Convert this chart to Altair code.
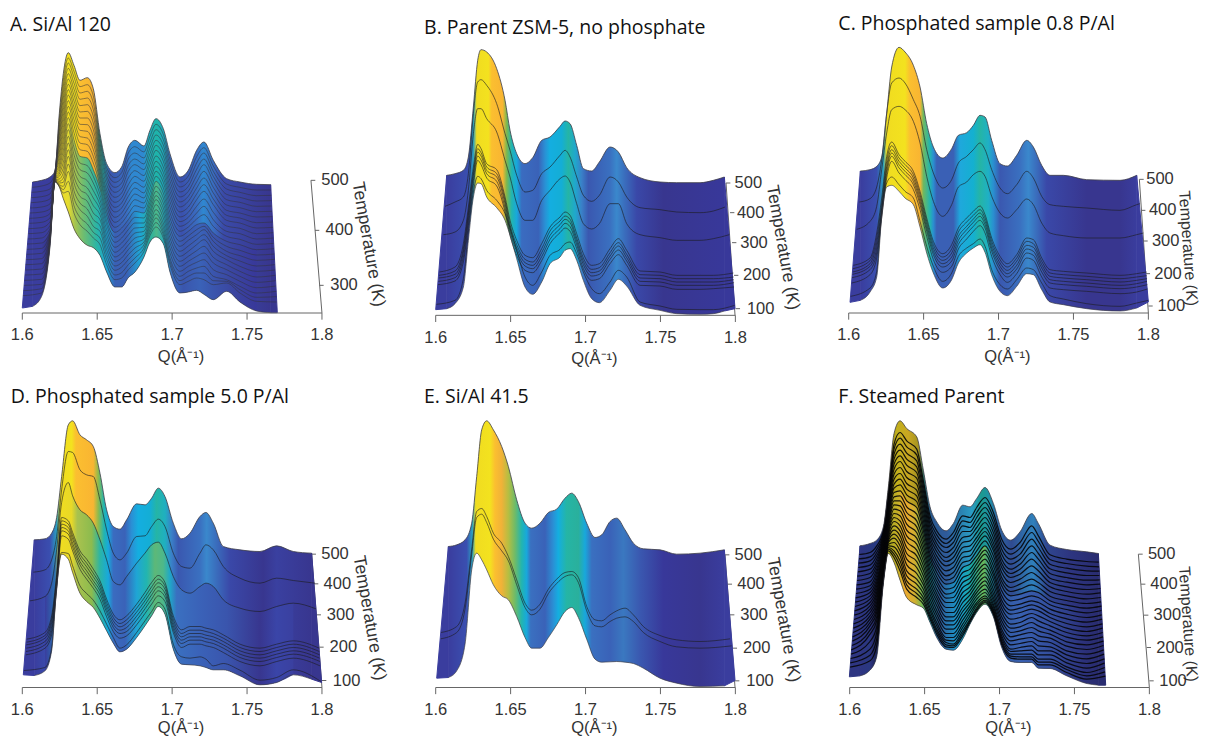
import altair as alt
import pandas as pd

# All curves were read from the picture.  Q readings are in ruler units (4495 per 1 Q),
# heights are surface rise above the Q axis (arbitrary units, 3 per image pixel).
Q_UNITS = 4495.0
PX_PER_UNIT = 1 / 3.0
FONT_AXIS = "Liberation Sans"
FONT_TITLE = "Open Sans"
TEMP_LABELS = [500, 400, 300, 200, 100]
Q_TICKS = [1.6, 1.65, 1.7, 1.75, 1.8]
Q_LABELS = ["1.6", "1.65", "1.7", "1.75", "1.8"]

# ---------- A ----------
A_GRID = [67, 98, 125, 150, 165, 178, 190, 205, 222, 240, 262, 280, 300, 320, 345, 365, 385, 405, 432, 450, 468, 490, 510, 540, 565, 590, 612, 640, 680, 720, 770, 812, 832]
A_TOP = [16, 393, 398, 408, 426, 598, 718, 781, 743, 698, 706, 673, 538, 448, 421, 438, 498, 518, 501, 548, 583, 553, 478, 408, 428, 488, 513, 458, 403, 393, 386, 385, 1]
A_BOT = [15, 20, 50, 198, 393, 378, 343, 303, 253, 223, 203, 196, 173, 123, 78, 78, 106, 123, 168, 213, 228, 208, 123, 60, 63, 68, 56, 40, 65, 33, 6, 1, 1]
A_ROWS_X = A_GRID[2:-2]
A_ROWS = [
    [365, 334, 303, 272, 241, 210, 179, 148, 117, 86, 60],
    [372, 342, 312, 285, 262, 245, 235, 225, 218, 210, 205],
    [423, 420, 417, 414, 411, 408, 405, 402, 399, 396, 394],
    [570, 545, 520, 495, 470, 445, 425, 410, 395, 385, 380],
    [680, 645, 610, 575, 540, 505, 470, 435, 405, 380, 360],
    [750, 718, 686, 654, 620, 586, 550, 510, 470, 425, 365],
    [708, 672, 636, 600, 562, 520, 475, 430, 390, 345, 300],
    [660, 622, 585, 548, 510, 470, 430, 390, 350, 310, 265],
    [665, 625, 585, 545, 505, 465, 420, 375, 335, 290, 245],
    [630, 590, 550, 510, 470, 430, 390, 345, 300, 260, 225],
    [510, 480, 450, 425, 400, 372, 340, 310, 280, 245, 205],
    [425, 400, 370, 345, 320, 290, 265, 235, 205, 175, 145],
    [392, 362, 332, 303, 272, 242, 212, 182, 155, 128, 100],
    [405, 375, 345, 315, 285, 255, 225, 195, 165, 138, 105],
    [462, 425, 385, 350, 315, 280, 250, 218, 190, 160, 130],
    [480, 445, 410, 375, 340, 305, 270, 240, 210, 180, 150],
    [465, 430, 395, 360, 330, 300, 270, 245, 222, 205, 185],
    [512, 478, 445, 410, 378, 345, 320, 295, 270, 250, 232],
    [550, 518, 488, 455, 425, 395, 365, 340, 310, 285, 258],
    [520, 488, 455, 422, 392, 360, 330, 300, 270, 245, 225],
    [445, 412, 380, 350, 318, 285, 255, 225, 195, 165, 145],
    [378, 348, 318, 288, 260, 230, 200, 170, 140, 110, 85],
    [395, 365, 335, 302, 272, 245, 218, 185, 155, 125, 95],
    [450, 412, 375, 340, 300, 265, 235, 205, 170, 135, 105],
    [480, 445, 405, 365, 320, 270, 250, 220, 180, 140, 100],
    [425, 395, 360, 325, 280, 240, 215, 185, 150, 110, 85],
    [372, 340, 308, 278, 245, 215, 185, 160, 130, 100, 90],
    [362, 332, 300, 270, 238, 205, 172, 140, 110, 80, 60],
    [352, 320, 288, 255, 222, 190, 158, 125, 92, 60, 35],
]
A_ROWS_MORE = [
    [381, 349, 318, 287, 256, 225, 194, 163, 132, 101, 73],
    [390, 357, 327, 298, 273, 253, 240, 230, 221, 214, 207],
    [425, 421, 418, 415, 412, 409, 406, 403, 400, 397, 395],
    [584, 557, 532, 507, 482, 457, 435, 417, 402, 390, 382],
    [699, 662, 627, 592, 557, 522, 487, 452, 420, 392, 370],
    [765, 734, 702, 670, 637, 603, 568, 530, 490, 447, 395],
    [725, 690, 654, 618, 581, 541, 497, 452, 410, 367, 322],
    [679, 641, 603, 566, 529, 490, 450, 410, 370, 330, 287],
    [685, 645, 605, 565, 525, 485, 442, 397, 355, 312, 267],
    [651, 610, 570, 530, 490, 450, 410, 367, 322, 280, 242],
    [524, 495, 465, 437, 412, 386, 356, 325, 295, 262, 225],
    [436, 412, 385, 357, 332, 305, 277, 250, 220, 190, 160],
    [406, 377, 347, 317, 287, 257, 227, 197, 168, 141, 114],
    [421, 390, 360, 330, 300, 270, 240, 210, 180, 151, 121],
    [480, 443, 405, 367, 332, 297, 265, 234, 204, 175, 145],
    [499, 462, 427, 392, 357, 322, 287, 255, 225, 195, 165],
    [483, 447, 412, 377, 345, 315, 285, 257, 233, 213, 195],
    [530, 495, 461, 427, 394, 361, 332, 307, 282, 260, 241],
    [566, 534, 503, 471, 440, 410, 380, 352, 325, 297, 271],
    [536, 504, 471, 438, 407, 376, 345, 315, 285, 257, 235],
    [461, 428, 396, 365, 334, 301, 270, 240, 210, 180, 155],
    [393, 363, 333, 303, 274, 245, 215, 185, 155, 125, 97],
    [411, 380, 350, 318, 287, 258, 231, 201, 170, 140, 110],
    [469, 431, 393, 357, 320, 282, 250, 220, 187, 152, 120],
    [496, 462, 425, 385, 342, 295, 260, 235, 200, 160, 120],
    [441, 410, 377, 342, 302, 260, 227, 200, 167, 130, 97],
    [387, 356, 324, 293, 261, 230, 200, 172, 145, 115, 95],
    [377, 347, 316, 285, 254, 221, 188, 156, 125, 95, 70],
    [369, 336, 304, 271, 238, 206, 174, 141, 108, 76, 47],
]
A_LINES = [list(c) for c in zip(*A_ROWS)] + [list(c) for c in zip(*A_ROWS_MORE)]
A_X0 = [95, 93, 90, 88, 85, 82, 80, 77, 75, 72, 69, 96.7, 94, 91.5, 89, 86.5, 83.5, 81, 78.5, 76, 73.5, 70.5]
A_H0 = [362, 331, 300, 269, 238, 207, 176, 145, 114, 83, 52, 377, 346, 315, 284, 253, 222, 191, 160, 129, 98, 67]
A_X1 = [814, 815, 817, 819, 820, 822, 824, 825, 827, 829, 830, 813, 814.5, 816, 818, 819.5, 821, 823, 824.5, 826, 828, 829.5]
A_H1 = [353, 321, 289, 257, 225, 193, 161, 129, 97, 65, 33, 369, 337, 305, 273, 241, 209, 177, 145, 113, 81, 49]
A_UP = [(98, "#3a3d9e"), (160, "#3a3d9e"), (172, "#f0dc20"), (230, "#f3e21f"), (240, "#fbbf30"), (285, "#f5b232"), (297, "#4f9a70"), (310, "#22b0b0"), (330, "#3a55ad"), (380, "#3a6cc0"), (395, "#2f88d0"), (430, "#2f88d0"), (445, "#1fb0c0"), (470, "#1fb4a8"), (495, "#1fa8c0"), (510, "#3a70c0"), (545, "#3a50ad"), (590, "#3a6cc0"), (610, "#2f88d0"), (640, "#3a6cc0"), (670, "#3a4aa8"), (812, "#38368f")]
A_LOW = [(125, "#3a3d9e"), (160, "#2a2a70"), (172, "#f0dc20"), (205, "#e5dc30"), (225, "#a6c350"), (250, "#6fbd70"), (290, "#2bb5a5"), (320, "#1ca6d5"), (345, "#3a60b5"), (380, "#3a60b5"), (420, "#1fa5d5"), (450, "#25b0a0"), (470, "#4db88a"), (495, "#1fa8c0"), (515, "#3a70c0"), (550, "#3a55ad"), (600, "#3a62b8"), (640, "#3a55ad"), (700, "#3a45a0"), (770, "#38389a")]

# ---------- B ----------
B_GRID = [77, 110, 135, 160, 175, 190, 203, 213, 230, 260, 285, 300, 320, 345, 368, 395, 420, 450, 465, 480, 500, 520, 545, 568, 600, 625, 650, 690, 750, 800, 870, 910, 943, 975]
B_TOP = [17, 420, 425, 435, 475, 625, 765, 797, 790, 740, 645, 555, 485, 455, 473, 525, 535, 567, 583, 575, 510, 440, 433, 460, 505, 490, 443, 413, 400, 398, 398, 405, 415, 20]
B_BOT = [17, 20, 35, 85, 225, 355, 397, 395, 355, 323, 285, 240, 170, 85, 63, 100, 155, 175, 195, 200, 165, 105, 50, 38, 75, 108, 88, 30, 15, 5, 3, 5, 13, 20]
B_ROWS_X = B_GRID[2:-2]
B_LINES = [
    [340, 355, 425, 605, 700, 707, 690, 635, 545, 495, 420, 370, 375, 425, 445, 480, 495, 475, 415, 360, 342, 360, 415, 400, 355, 323, 317, 310, 308, 313],
    [250, 285, 375, 545, 620, 620, 590, 550, 465, 415, 335, 285, 285, 345, 375, 410, 418, 400, 335, 275, 259, 275, 335, 335, 275, 242, 233, 225, 225, 230],
    [145, 215, 325, 445, 513, 500, 455, 437, 355, 285, 225, 180, 173, 215, 265, 295, 310, 300, 245, 185, 150, 155, 200, 230, 195, 133, 130, 120, 120, 120],
    [133, 200, 310, 430, 500, 488, 445, 425, 345, 272, 212, 168, 160, 200, 253, 283, 298, 288, 232, 172, 138, 143, 188, 218, 183, 122, 120, 110, 110, 110],
    [123, 190, 300, 420, 490, 478, 435, 415, 335, 262, 202, 158, 150, 188, 240, 272, 288, 278, 222, 162, 128, 133, 178, 208, 173, 112, 110, 100, 100, 100],
    [113, 175, 285, 405, 478, 466, 425, 402, 322, 252, 192, 148, 140, 176, 228, 260, 276, 266, 212, 152, 118, 123, 168, 196, 163, 102, 100, 90, 90, 90],
    [103, 160, 270, 390, 465, 452, 412, 388, 310, 240, 180, 135, 128, 164, 215, 248, 262, 252, 200, 140, 105, 110, 155, 182, 150, 90, 88, 78, 78, 80],
    [45, 110, 250, 370, 417, 410, 375, 345, 305, 262, 195, 115, 90, 130, 180, 198, 215, 220, 185, 130, 80, 65, 100, 135, 115, 40, 28, 18, 17, 17],
]
B_X0 = [105, 100, 88, 87, 86, 85, 84, 79]
B_H0 = [327, 242, 130, 120, 112, 102, 92, 33]
B_X1 = [945, 958, 970, 971, 971, 972, 972, 974]
B_H1 = [325, 242, 127, 115, 107, 98, 85, 30]
B_UP = [(110, "#3a3d9e"), (175, "#3a4fb0"), (190, "#2aa0c0"), (200, "#f0dc20"), (235, "#f3e21f"), (245, "#fbbf30"), (278, "#f9b532"), (290, "#7ab850"), (305, "#22b5b0"), (320, "#18a8dc"), (335, "#3a6cc0"), (385, "#3a62b8"), (405, "#2a90d5"), (420, "#14aee0"), (455, "#14aed5"), (475, "#25b5a5"), (495, "#1fa8cc"), (515, "#3a80c8"), (535, "#3a58b0"), (600, "#3a70c0"), (620, "#3a88cc"), (645, "#3a6cbc"), (680, "#3a48a8"), (760, "#38368f"), (943, "#38389a")]

# ---------- C ----------
C_GRID = [90, 121, 150, 170, 185, 200, 215, 237, 255, 280, 300, 320, 340, 368, 395, 415, 440, 460, 480, 495, 515, 540, 562, 590, 620, 640, 665, 690, 730, 800, 900, 950, 985]
C_TOP = [32, 426, 430, 440, 468, 598, 738, 797, 783, 743, 678, 568, 498, 465, 493, 533, 541, 563, 593, 588, 518, 448, 441, 473, 518, 498, 443, 413, 413, 400, 398, 413, 33]
C_BOT = [32, 38, 63, 108, 288, 378, 383, 365, 345, 325, 258, 180, 120, 75, 100, 150, 180, 195, 205, 182, 115, 65, 52, 80, 118, 115, 70, 33, 25, 13, 6, 15, 33]
C_ROWS_X = C_GRID[2:-1]
C_LINES = [
    [343, 378, 460, 600, 690, 705, 690, 640, 590, 490, 420, 375, 400, 450, 470, 490, 510, 490, 430, 375, 358, 385, 425, 405, 350, 325, 320, 315, 308, 325],
    [275, 320, 430, 540, 610, 620, 610, 575, 510, 410, 335, 290, 325, 378, 393, 415, 425, 410, 350, 300, 285, 310, 342, 325, 270, 240, 232, 225, 225, 235],
    [165, 240, 345, 470, 513, 475, 455, 425, 365, 285, 215, 178, 205, 255, 285, 305, 321, 295, 225, 170, 148, 175, 225, 220, 165, 130, 125, 120, 113, 118],
    [157, 225, 330, 455, 502, 465, 445, 415, 355, 275, 205, 168, 192, 243, 273, 293, 310, 285, 215, 160, 138, 165, 215, 208, 155, 120, 115, 110, 103, 108],
    [148, 210, 315, 440, 490, 455, 435, 405, 345, 265, 195, 158, 180, 230, 260, 282, 300, 275, 205, 150, 128, 155, 203, 197, 145, 110, 105, 100, 93, 98],
    [140, 195, 305, 430, 480, 445, 425, 395, 335, 255, 185, 148, 168, 218, 250, 272, 290, 265, 195, 140, 118, 143, 192, 185, 135, 100, 95, 90, 83, 88],
    [130, 180, 295, 418, 470, 435, 415, 385, 325, 245, 175, 138, 156, 206, 238, 260, 278, 255, 185, 130, 108, 132, 180, 173, 123, 90, 85, 80, 73, 78],
    [115, 165, 285, 405, 455, 420, 400, 370, 310, 230, 160, 122, 140, 192, 222, 245, 262, 240, 170, 115, 92, 118, 165, 158, 108, 75, 70, 65, 58, 63],
    [75, 125, 300, 390, 408, 385, 365, 345, 275, 200, 140, 95, 120, 170, 195, 208, 222, 200, 130, 85, 72, 100, 135, 130, 90, 52, 42, 28, 20, 30],
]
C_X0 = [118, 110, 100, 99, 98, 97, 96, 95, 92]
C_H0 = [333, 251, 143, 133, 123, 116, 106, 90, 50]
C_X1 = [960, 970, 980, 980, 981, 981, 982, 982, 985]
C_H1 = [328, 240, 123, 112, 103, 95, 85, 72, 38]
C_UP = [(121, "#3a3d9e"), (170, "#3a4fb0"), (190, "#2aa0c0"), (200, "#f0dc20"), (255, "#f3e21f"), (270, "#fbbf30"), (300, "#f9b532"), (310, "#6fb860"), (330, "#22b5b0"), (340, "#2a8fd0"), (350, "#3a60b5"), (400, "#3a60b5"), (420, "#1fa8dc"), (460, "#14b0d0"), (480, "#25b5a5"), (505, "#1fb0c5"), (520, "#2a8fd0"), (540, "#3a58b0"), (600, "#3a70c0"), (625, "#3a88cc"), (650, "#3a6cbc"), (680, "#3a48a8"), (800, "#38368f"), (900, "#38368f"), (950, "#3a3d9e")]

# ---------- D ----------
D_GRID = [70, 103, 135, 155, 170, 185, 205, 218, 240, 260, 280, 300, 320, 340, 360, 380, 410, 435, 455, 475, 495, 520, 545, 570, 600, 618, 640, 670, 720, 780, 830, 880, 935, 965]
D_TOP = [38, 443, 446, 463, 510, 633, 788, 800, 758, 743, 723, 643, 533, 483, 475, 503, 551, 548, 568, 598, 573, 493, 446, 463, 513, 525, 493, 423, 413, 408, 425, 408, 403, 15]
D_BOT = [38, 36, 50, 110, 300, 400, 385, 345, 283, 258, 240, 208, 170, 133, 107, 115, 150, 185, 215, 243, 220, 115, 70, 68, 65, 60, 53, 53, 35, 8, 15, 38, 25, 15]
D_ROWS_X = D_GRID[2:-2]
D_LINES = [
    [353, 383, 453, 593, 708, 705, 653, 638, 633, 563, 473, 403, 383, 403, 453, 455, 483, 505, 483, 403, 363, 358, 403, 428, 413, 363, 328, 313, 328, 321],
    [273, 313, 413, 555, 615, 575, 533, 518, 493, 443, 383, 318, 308, 333, 373, 403, 428, 436, 403, 333, 293, 283, 303, 313, 303, 263, 238, 228, 243, 253],
    [165, 215, 340, 510, 500, 465, 410, 385, 355, 320, 265, 220, 203, 215, 250, 285, 315, 336, 315, 215, 173, 183, 183, 178, 173, 158, 130, 118, 130, 140],
    [156, 205, 330, 500, 490, 455, 400, 373, 343, 310, 255, 210, 192, 203, 238, 272, 302, 325, 305, 205, 162, 172, 172, 168, 162, 148, 120, 108, 120, 130],
    [148, 195, 320, 490, 480, 445, 390, 362, 332, 300, 245, 200, 182, 192, 226, 260, 290, 314, 295, 195, 152, 162, 162, 157, 152, 138, 110, 98, 110, 120],
    [138, 182, 310, 480, 470, 433, 378, 350, 320, 290, 235, 190, 172, 180, 214, 248, 278, 302, 283, 185, 142, 152, 152, 147, 142, 128, 100, 88, 100, 110],
    [128, 170, 300, 470, 460, 422, 368, 338, 310, 278, 225, 180, 162, 168, 202, 236, 265, 290, 272, 175, 132, 142, 142, 137, 132, 118, 90, 78, 90, 100],
    [118, 158, 292, 455, 445, 410, 355, 325, 298, 265, 212, 168, 148, 155, 188, 222, 250, 275, 258, 165, 120, 130, 130, 125, 120, 105, 78, 65, 78, 88],
    [60, 118, 305, 405, 402, 365, 305, 282, 262, 230, 190, 150, 118, 128, 165, 200, 228, 255, 235, 130, 92, 88, 92, 85, 65, 72, 52, 22, 30, 53],
]
D_X0 = [100, 90, 80, 80, 79, 79, 78, 78, 72]
D_H0 = [346, 260, 145, 136, 128, 118, 108, 98, 51]
D_X1 = [945, 948, 958, 958, 959, 959, 960, 960, 963]
D_H1 = [313, 236, 118, 108, 98, 88, 78, 65, 18]
D_UP = [(103, "#3a3d9e"), (150, "#3a4fb0"), (170, "#2aa0c0"), (182, "#f0dc20"), (215, "#f3e21f"), (228, "#fbbf30"), (280, "#f9b532"), (295, "#8cbb4e"), (312, "#22b5b0"), (325, "#18a8dc"), (340, "#3a6cc0"), (375, "#3a62b8"), (395, "#2a90d5"), (415, "#14aee0"), (450, "#14aed5"), (470, "#25b5a5"), (495, "#1fb0c0"), (515, "#3a80c8"), (535, "#3a58b0"), (600, "#3a70c0"), (620, "#3a88cc"), (650, "#3a6cbc"), (690, "#3a48a8"), (790, "#38368f"), (830, "#3a40a0"), (935, "#38368f")]
D_LOW = [(135, "#3a3d9e"), (165, "#2a70b0"), (182, "#f0dc20"), (215, "#e8d828"), (232, "#a9c24e"), (275, "#8cbb4e"), (300, "#2bb5a5"), (325, "#18a8dc"), (340, "#3a6cc0"), (375, "#3a62b8"), (410, "#1fa5d5"), (440, "#22b5b0"), (465, "#5db878"), (490, "#4db88a"), (510, "#1fa8c8"), (530, "#3a70c0"), (600, "#3a62b8"), (680, "#3a55ad"), (780, "#38368f"), (830, "#3a45a8"), (880, "#3a40a0")]

# ---------- E ----------
E_GRID = [80, 115, 140, 165, 185, 200, 215, 230, 250, 275, 295, 320, 345, 365, 390, 415, 440, 465, 485, 505, 530, 555, 575, 600, 620, 645, 670, 700, 750, 800, 870, 943, 975]
E_TOP = [28, 423, 428, 443, 493, 633, 773, 800, 773, 723, 663, 563, 493, 478, 493, 525, 535, 568, 583, 558, 493, 450, 458, 498, 508, 473, 433, 416, 413, 400, 403, 413, 21]
E_BOT = [28, 30, 50, 130, 353, 403, 383, 353, 308, 275, 263, 213, 150, 118, 118, 150, 188, 228, 240, 210, 145, 85, 76, 77, 78, 76, 72, 58, 28, 13, 3, 5, 21]
E_ROWS_X = E_GRID[2:-2]
E_LINES = [
    [183, 253, 415, 528, 537, 513, 463, 433, 393, 323, 253, 232, 250, 295, 325, 345, 348, 330, 243, 203, 200, 218, 230, 238, 218, 183, 156, 143, 138],
    [165, 235, 400, 510, 520, 495, 445, 410, 380, 308, 240, 218, 235, 282, 312, 333, 338, 315, 230, 185, 182, 198, 208, 212, 198, 165, 138, 122, 118],
]
E_X0 = [93, 92]
E_H0 = [165, 146]
E_X1 = [960, 965]
E_H1 = [146, 125]
E_UP = [(115, "#3a3d9e"), (170, "#3a4fb0"), (187, "#2aa0c0"), (197, "#f0dc20"), (240, "#f3e21f"), (255, "#fbbf30"), (275, "#f0b238"), (295, "#b5be42"), (315, "#6fbb68"), (335, "#22b5b0"), (350, "#18a8dc"), (362, "#3a70c0"), (405, "#3a62b8"), (430, "#2a90d5"), (445, "#14aee0"), (470, "#25b5a5"), (505, "#2ab09c"), (525, "#18a8dc"), (545, "#3a70c0"), (600, "#3a62b8"), (640, "#3a78c0"), (690, "#3a58b0"), (760, "#38389a"), (870, "#38368f"), (943, "#3a3d9e")]

# ---------- F ----------
F_GRID = [88, 120, 150, 170, 190, 205, 222, 240, 260, 290, 310, 330, 350, 378, 400, 428, 450, 470, 495, 520, 545, 572, 600, 635, 655, 690, 740, 800, 835, 857]
F_TOP = [32, 425, 432, 442, 482, 602, 762, 800, 777, 752, 652, 542, 497, 470, 492, 547, 542, 567, 600, 552, 472, 442, 467, 522, 492, 427, 414, 407, 402, 7]
F_BOT = [32, 35, 52, 92, 312, 402, 375, 322, 270, 248, 238, 195, 150, 115, 112, 145, 190, 225, 250, 212, 120, 78, 75, 75, 58, 57, 35, 12, 7, 7]
F_ROWS_X = F_GRID[2:-2]
F_ROWS = [
    [405, 380, 355, 330, 305, 285, 265, 245, 225, 205, 185, 160, 115, 80],
    [425, 405, 385, 365, 345, 325, 305, 285, 265, 245, 225, 200, 165, 125],
    [470, 458, 446, 434, 422, 410, 398, 386, 374, 362, 350, 340, 330, 320],
    [585, 570, 555, 540, 525, 510, 495, 480, 465, 450, 440, 430, 420, 410],
    [730, 700, 670, 640, 610, 585, 560, 535, 510, 485, 460, 435, 410, 390],
    [765, 730, 695, 660, 625, 590, 560, 530, 500, 470, 440, 410, 380, 350],
    [740, 703, 667, 630, 595, 560, 525, 490, 455, 420, 385, 350, 320, 295],
    [715, 680, 645, 610, 575, 540, 500, 465, 430, 395, 360, 325, 295, 270],
    [620, 590, 560, 530, 500, 470, 440, 410, 380, 350, 320, 295, 270, 250],
    [515, 490, 465, 440, 415, 390, 365, 340, 315, 290, 265, 240, 220, 205],
    [470, 445, 420, 395, 370, 345, 320, 295, 270, 245, 220, 195, 175, 160],
    [445, 420, 390, 365, 335, 310, 280, 255, 225, 200, 175, 150, 135, 122],
    [465, 435, 405, 375, 345, 315, 285, 255, 225, 200, 175, 150, 130, 120],
    [515, 485, 450, 420, 390, 360, 330, 300, 270, 240, 215, 190, 170, 155],
    [510, 480, 455, 425, 395, 370, 340, 315, 290, 265, 245, 225, 205, 195],
    [540, 510, 480, 450, 425, 395, 370, 345, 320, 295, 275, 255, 240, 230],
    [570, 540, 510, 480, 455, 425, 400, 370, 345, 320, 295, 275, 262, 255],
    [525, 495, 465, 435, 410, 380, 350, 325, 295, 270, 250, 235, 225, 218],
    [445, 415, 385, 360, 330, 305, 275, 250, 225, 200, 175, 155, 140, 128],
    [415, 385, 355, 330, 300, 275, 245, 220, 190, 165, 140, 115, 100, 88],
    [435, 400, 370, 340, 310, 280, 250, 225, 195, 170, 145, 120, 100, 85],
    [485, 445, 405, 365, 325, 290, 260, 235, 210, 180, 150, 125, 100, 85],
    [455, 420, 385, 350, 315, 285, 255, 230, 200, 170, 140, 110, 85, 68],
    [398, 370, 342, 315, 288, 260, 235, 210, 185, 160, 135, 110, 85, 68],
    [385, 358, 330, 302, 275, 247, 220, 192, 165, 137, 110, 85, 62, 45],
    [378, 350, 322, 294, 266, 238, 210, 182, 155, 128, 100, 72, 45, 25],
]
F_ROWS_MORE = [
    [392, 367, 342, 317, 295, 275, 255, 235, 215, 195, 172, 138, 97],
    [415, 395, 375, 355, 335, 315, 295, 275, 255, 235, 212, 182, 145],
    [464, 452, 440, 428, 416, 404, 392, 380, 368, 356, 345, 335, 325],
    [578, 562, 548, 532, 518, 502, 488, 472, 458, 445, 435, 425, 415],
    [715, 685, 655, 625, 598, 572, 548, 522, 498, 472, 448, 422, 400],
    [748, 712, 678, 642, 608, 575, 545, 515, 485, 455, 425, 395, 365],
    [722, 685, 648, 612, 578, 542, 508, 472, 438, 402, 368, 335, 308],
    [698, 662, 628, 592, 558, 520, 482, 448, 412, 378, 342, 310, 282],
    [605, 575, 545, 515, 485, 455, 425, 395, 365, 335, 308, 282, 260],
    [502, 478, 452, 428, 402, 378, 352, 328, 302, 278, 252, 230, 212],
    [458, 432, 408, 382, 358, 332, 308, 282, 258, 232, 208, 185, 168],
    [432, 405, 378, 350, 322, 295, 268, 240, 212, 188, 162, 142, 128],
    [450, 420, 390, 360, 330, 300, 270, 240, 212, 188, 162, 140, 125],
    [500, 468, 435, 405, 375, 345, 315, 285, 255, 228, 202, 180, 162],
    [495, 468, 440, 410, 382, 355, 328, 302, 278, 255, 235, 215, 200],
    [525, 495, 465, 438, 410, 382, 358, 332, 308, 285, 265, 248, 235],
    [555, 525, 495, 468, 440, 412, 385, 358, 332, 308, 285, 268, 258],
    [510, 480, 450, 422, 395, 365, 338, 310, 282, 260, 242, 230, 221],
    [430, 400, 372, 345, 318, 290, 262, 238, 212, 188, 165, 148, 134],
    [400, 370, 342, 315, 288, 260, 232, 205, 178, 152, 128, 108, 94],
    [418, 385, 355, 325, 295, 265, 238, 210, 182, 158, 132, 110, 92],
    [465, 425, 385, 345, 308, 275, 248, 222, 195, 165, 138, 112, 92],
    [438, 402, 368, 332, 300, 270, 242, 215, 185, 155, 125, 98, 76],
    [384, 356, 328, 302, 274, 248, 222, 198, 172, 148, 122, 98, 76],
    [372, 344, 316, 288, 261, 234, 206, 178, 151, 124, 98, 74, 54],
    [364, 336, 308, 280, 252, 224, 196, 168, 142, 114, 86, 58, 35],
]
F_LINES = [list(c) for c in zip(*F_ROWS)] + [list(c) for c in zip(*F_ROWS_MORE)]
F_X0 = [118, 116, 114, 111, 109, 107, 105, 103, 101, 99, 97, 94, 92, 90, 117, 115, 112, 110, 108, 106, 104, 102, 100, 98, 96, 93, 91]
F_H0 = [399, 373, 347, 321, 295, 269, 243, 217, 191, 165, 139, 113, 87, 61, 386, 360, 334, 308, 282, 256, 230, 204, 178, 152, 126, 100, 74]
F_X1 = [836, 838, 839, 841, 842, 844, 845, 847, 848, 850, 851, 853, 854, 856, 837, 838, 840, 841, 843, 844, 846, 847, 849, 850, 852, 853, 855]
F_H1 = [376, 349, 323, 297, 270, 244, 218, 191, 165, 139, 113, 86, 60, 34, 362, 336, 310, 284, 257, 231, 205, 178, 152, 126, 100, 73, 47]
F_UP = [(120, "#2e3582"), (175, "#263a80"), (195, "#111a30"), (210, "#8f8415"), (230, "#c2b01c"), (265, "#c9a722"), (295, "#a59420"), (312, "#2a6e6a"), (335, "#2a5a90"), (380, "#2f5a9a"), (420, "#2a80b0"), (455, "#2a9cc4"), (485, "#1b9a90"), (510, "#2090a8"), (530, "#2f6aa5"), (575, "#2f4a90"), (615, "#2f70ad"), (640, "#2f80bc"), (680, "#2f468f"), (750, "#2d3580"), (835, "#292c70")]
F_LOW = [(150, "#2e3582"), (185, "#0f1830"), (205, "#a8a81e"), (235, "#c8b028"), (255, "#eeaa30"), (285, "#d0b030"), (305, "#78b850"), (330, "#208f9c"), (360, "#2f5a9a"), (420, "#18a0d0"), (460, "#1ea89a"), (490, "#6ab858"), (515, "#1e90a8"), (540, "#2f58a0"), (600, "#3860b0"), (680, "#3450a0"), (800, "#2b2f78")]


def gradient(stops):
    lo, hi = stops[0][0], stops[-1][0]
    return alt.LinearGradient(
        gradient="linear", x1=0, x2=1, y1=0, y2=0,
        stops=[alt.GradientStop(color=c, offset=(x - lo) / (hi - lo)) for x, c in stops],
    )


def panel(title, zero, left_px, width, axis_drop, grid, top, bot, rows_x, lines, x0, h0, x1, h1,
          up, low=None, band=None, title_x=30, title_h=845, q_x=543, q_h=-132,
          temps=TEMP_LABELS, tick_x=(), tick_h=(), label_x=(), axis_x0=966, title_pos=(1105, 206),
          line_w=0.7, line_c="#1c1c22", t_angle=80, t_size=17.5):
    assert len(grid) == len(top) == len(bot), title
    for ln in lines:
        assert len(ln) == len(rows_x), title

    def q(v):
        return 1.6 + (v - zero) / Q_UNITS

    lo = 1.6 - left_px / (Q_UNITS * PX_PER_UNIT)
    xs = alt.Scale(domain=[lo, lo + width / (Q_UNITS * PX_PER_UNIT)], nice=False, zero=False)
    ys = alt.Scale(domain=[axis_drop, 915 + axis_drop], nice=False, zero=False)
    X = alt.X("q:Q", scale=xs, axis=None, title=None)
    Y = alt.Y("h:Q", scale=ys, axis=None, title=None)

    surf = pd.DataFrame({"q": [q(v) for v in grid], "h": top, "b": bot})
    layers = []

    # temperature axis
    ax = pd.DataFrame({"q": [q(axis_x0), q(tick_x[0])], "h": [0, tick_h[0]]})
    layers.append(alt.Chart(ax).mark_line(color="#666666", strokeWidth=1).encode(x=X, y=Y))
    tk = pd.DataFrame({"q": [q(v) for v in tick_x], "q2": [q(v + 13) for v in tick_x], "h": tick_h,
                       "lx": [q(v) for v in label_x], "t": [str(t) for t in temps]})
    layers.append(alt.Chart(tk).mark_rule(color="#666666", strokeWidth=1).encode(x=X, x2="q2:Q", y=Y))

    # walls
    left = surf.iloc[:2]
    right = surf.iloc[-2:]
    for part, col in ((left, up[0][1]), (right, up[-1][1])):
        layers.append(alt.Chart(part).mark_area(color=col, stroke=col, strokeWidth=1, interpolate="linear").encode(x=X, y=Y, y2="b:Q"))
    n_end = grid.index(up[-1][0]) + 1
    main = surf.iloc[1:n_end]
    layers.append(alt.Chart(main).mark_area(color=gradient(up), interpolate="monotone").encode(x=X, y=Y, y2="b:Q"))

    if low is not None:
        bmap = dict(zip(grid, bot))
        sub = [(x, lines[band][i], bmap[x]) for i, x in enumerate(rows_x) if low[0][0] <= x <= low[-1][0]]
        lowdf = pd.DataFrame({"q": [q(s[0]) for s in sub], "h": [s[1] for s in sub], "b": [s[2] for s in sub]})
        layers.append(alt.Chart(lowdf).mark_area(color=gradient(low), interpolate="monotone").encode(x=X, y=Y, y2="b:Q"))

    # waterfall lines
    recs = []
    for i, ln in enumerate(lines):
        recs.append({"q": q(x0[i]), "h": h0[i], "id": i})
        for x, h in zip(rows_x, ln):
            recs.append({"q": q(x), "h": h, "id": i})
        recs.append({"q": q(x1[i]), "h": h1[i], "id": i})
    layers.append(alt.Chart(pd.DataFrame(recs)).mark_line(color=line_c, strokeWidth=line_w, strokeOpacity=0.9,
                                                         interpolate="monotone").encode(x=X, y=Y, detail="id:N"))

    # silhouette outlines
    layers.append(alt.Chart(main).mark_line(color="#3c3c46", strokeWidth=0.8, interpolate="monotone").encode(x=X, y=Y))
    layers.append(alt.Chart(main).mark_line(color="#3c3c46", strokeWidth=0.7, interpolate="monotone").encode(x=X, y=alt.Y("b:Q", scale=ys, axis=None, title=None)))

    # Q axis: line, ticks and tick labels
    rule = pd.DataFrame({"q": [1.6], "q2": [1.8], "h": [0]})
    layers.append(alt.Chart(rule).mark_rule(color="#666666", strokeWidth=1).encode(x=X, x2="q2:Q", y=Y))
    qt_df = pd.DataFrame({"q": Q_TICKS, "h": [0] * 5, "h2": [-20] * 5, "hl": [-67] * 5, "t": Q_LABELS})
    layers.append(alt.Chart(qt_df).mark_rule(color="#666666", strokeWidth=1).encode(x=X, y=Y, y2="h2:Q"))
    layers.append(alt.Chart(qt_df).mark_text(font=FONT_AXIS, fontSize=16.5, color="#333333", align="center", baseline="middle").encode(
        x=X, y=alt.Y("hl:Q", scale=ys, axis=None, title=None), text="t:N"))

    # texts
    layers.append(alt.Chart(tk).mark_text(font=FONT_AXIS, fontSize=16.5, color="#333333", align="center", baseline="middle").encode(
        x=alt.X("lx:Q", scale=xs, axis=None, title=None), y=Y, text="t:N"))
    tp = pd.DataFrame({"q": [q(title_pos[0])], "h": [title_pos[1]], "t": ["Temperature (K)"]})
    layers.append(alt.Chart(tp).mark_text(font=FONT_AXIS, fontSize=t_size, color="#333333", angle=t_angle, align="center", baseline="middle").encode(x=X, y=Y, text="t:N"))
    qt = pd.DataFrame({"q": [q(q_x)], "h": [q_h], "t": ["Q(Å⁻¹)"]})
    layers.append(alt.Chart(qt).mark_text(font=FONT_AXIS, fontSize=16.5, color="#333333", align="center", baseline="middle").encode(x=X, y=Y, text="t:N"))
    tt = pd.DataFrame({"q": [q(title_x)], "h": [title_h], "t": [title]})
    layers.append(alt.Chart(tt).mark_text(font=FONT_TITLE, fontSize=19.5, color="#111111", align="left", baseline="alphabetic").encode(x=X, y=Y, text="t:N"))

    return alt.layer(*layers).properties(width=width, height=305)


a = panel("A. Si/Al 120", 67, 14.3, 413, 0, A_GRID, A_TOP, A_BOT, A_ROWS_X, A_LINES, A_X0, A_H0, A_X1, A_H1,
          A_UP, A_LOW, 5, title_x=30, title_h=845, q_x=543, q_h=-132, temps=[500, 400, 300],
          tick_x=[933, 945, 958], tick_h=[398, 248, 83], label_x=[1005, 1018, 1032], axis_x0=966, title_pos=(1105, 206),
          line_w=0.6, line_c="#33333c")
b = panel("B. Parent ZSM-5, no phosphate", 77, 14.7, 413, 7, B_GRID, B_TOP, B_BOT, B_ROWS_X, B_LINES, B_X0, B_H0, B_X1, B_H1,
          B_UP, title_x=42, title_h=845, q_x=553, q_h=-130,
          tick_x=[948, 960, 966, 972, 977], tick_h=[397, 308, 218, 120, 20], label_x=[1015, 1022, 1032, 1040, 1052], axis_x0=975, title_pos=(1118, 203))
c = panel("C. Phosphated sample 0.8 P/Al", 86, 14.7, 340, 0, C_GRID, C_TOP, C_BOT, C_ROWS_X, C_LINES, C_X0, C_H0, C_X1, C_H1,
          C_UP, title_x=55, title_h=850, q_x=562, q_h=-132,
          tick_x=[958, 963, 970, 977, 985], tick_h=[401, 308, 216, 118, 21], label_x=[1020, 1028, 1037, 1044, 1054], axis_x0=985, title_pos=(1104, 194), t_angle=86, t_size=16)
d = panel("D. Phosphated sample 5.0 P/Al", 67, 14.3, 413, 0, D_GRID, D_TOP, D_BOT, D_ROWS_X, D_LINES, D_X0, D_H0, D_X1, D_H1,
          D_UP, D_LOW, 1, title_x=32, title_h=855, q_x=543, q_h=-120,
          tick_x=[935, 942, 950, 958, 966], tick_h=[400, 311, 218, 121, 21], label_x=[1005, 1012, 1022, 1030, 1040], axis_x0=966, title_pos=(1108, 208))
e = panel("E. Si/Al 41.5", 77, 14.7, 413, 0, E_GRID, E_TOP, E_BOT, E_ROWS_X, E_LINES, E_X0, E_H0, E_X1, E_H1,
          E_UP, title_x=42, title_h=855, q_x=553, q_h=-120,
          tick_x=[945, 953, 960, 968, 975], tick_h=[398, 310, 218, 118, 20], label_x=[1015, 1023, 1032, 1040, 1050], axis_x0=975, title_pos=(1120, 203))
f = panel("F. Steamed Parent", 89, 15.7, 340, 0, F_GRID, F_TOP, F_BOT, F_ROWS_X, F_LINES, F_X0, F_H0, F_X1, F_H1,
          F_UP, F_LOW, 5, title_x=55, title_h=854, q_x=565, q_h=-120,
          tick_x=[955, 963, 972, 980, 988], tick_h=[400, 310, 217, 120, 20], label_x=[1025, 1032, 1042, 1050, 1059], axis_x0=988, title_pos=(1104, 190),
          line_w=1.2, line_c="#050508", t_angle=86, t_size=16)

chart = alt.vconcat(
    alt.hconcat(a, b, c, spacing=0),
    alt.hconcat(d, e, f, spacing=0),
    spacing=14.5,
).properties(
    padding={"left": 0, "top": 0, "right": 1194, "bottom": 729},
    autosize=alt.AutoSizeParams(type="none"),
).configure_view(stroke=None)

chart.save("out.html", embed_options={"renderer": "svg", "actions": False})
